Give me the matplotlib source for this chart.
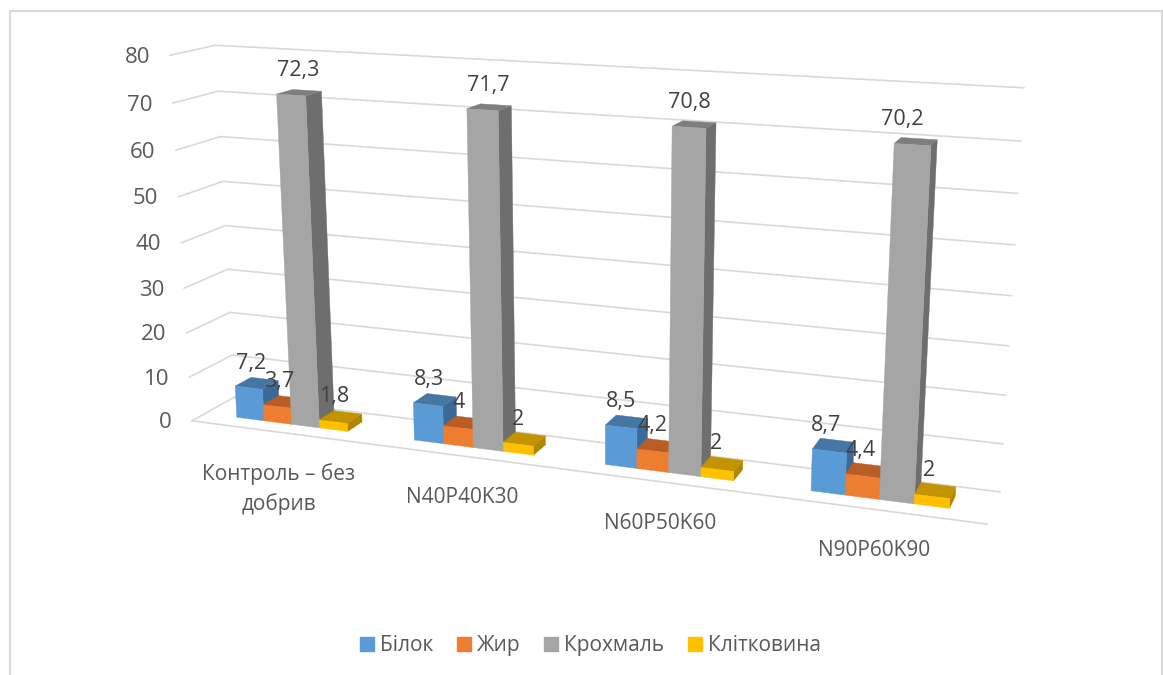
import numpy as np
import matplotlib
matplotlib.use('Agg')
import matplotlib.pyplot as plt
from matplotlib.patches import Patch, Polygon

# composition of grain by fertiliser treatment, %
categories = ['Контроль – без\nдобрив', 'N40P40K30', 'N60P50K60', 'N90P60K90']
series_names = ['Білок', 'Жир', 'Крохмаль', 'Клітковина']
bilok = [7.2, 8.3, 8.5, 8.7]
zhyr = [3.7, 4, 4.2, 4.4]
krokhmal = [72.3, 71.7, 70.8, 70.2]
klitkovyna = [1.8, 2, 2, 2]
yticks = [0, 10, 20, 30, 40, 50, 60, 70, 80]

front_colors = ['#5B9BD5', '#ED7D31', '#A5A5A5', '#FFC000']
top_colors = ['#4577A5', '#BA5D24', '#7E7E7E', '#C49400']
side_colors = ['#3C6A96', '#A85420', '#6E6E6E', '#B08600']
grid_color = '#D9D9D9'

plt.rcParams['font.family'] = ['Open Sans', 'DejaVu Sans']

# camera: (category, depth, value) -> canvas position, solved from the box corners
world = np.array([
    (0, 0, 0), (0, 0, 10), (0, 0, 70), (0, 0, 80),
    (0, 1, 0), (0, 1, 10), (0, 1, 60), (0, 1, 70), (0, 1, 80),
    (4, 1, 0), (4, 1, 10), (4, 1, 60), (4, 1, 70), (4, 1, 80),
    (4, 0, 0)], dtype=float)
canvas = np.array([
    (192, 421), (189, 377), (173, 103), (170, 55.5),
    (235, 397), (232, 355), (220, 137), (218, 91), (216, 45),
    (1000, 492), (1003, 444), (1018, 193), (1021, 141), (1024, 88),
    (987, 524)], dtype=float)


def solve_camera(world, canvas):
    rows = []
    rhs = []
    for (u, d, v), (x, y) in zip(world, canvas):
        rows.append([u, d, v, 1, 0, 0, 0, 0, -x*u, -x*d, -x*v])
        rhs.append(x)
        rows.append([0, 0, 0, 0, u, d, v, 1, -y*u, -y*d, -y*v])
        rhs.append(y)
    p = np.linalg.lstsq(np.array(rows), np.array(rhs), rcond=None)[0]
    return np.append(p, 1.0).reshape(3, 4)


cam = solve_camera(world, canvas)


def project(u, d, v):
    q = cam @ np.array([u, d, v, 1.0])
    return q[0]/q[2], q[1]/q[2]


fig = plt.figure(figsize=(11.63, 6.75), dpi=100)
ax = fig.add_axes([0, 0, 1, 1])
ax.set_xlim(0, 1163)
ax.set_ylim(675, 0)
ax.axis('off')

# chart frame
ax.plot([10, 10, 1162, 1162], [675, 10.5, 10.5, 675], color=grid_color, lw=1.5)

# walls and floor
for val in yticks:
    pts = [project(0, 0, val), project(0, 1, val), project(4, 1, val)]
    ax.plot(*zip(*pts), color=grid_color, lw=1.2, solid_capstyle='round', zorder=1)
    x0, y0 = pts[0]
    ax.text(x0 - 20, y0 + 2, str(val), ha='right', va='center', fontsize=16, color='#595959')
ax.plot(*zip(project(0, 0, 0), project(4, 0, 0)), color=grid_color, lw=1.2, zorder=1)

for i, label in enumerate(categories):
    x, y = project(i + 0.5, 0, 0)
    ax.text(x, y + 31, label, ha='center', va='top', fontsize=15, color='#595959', linespacing=1.5)

# bars, left to right so nearer ones cover the farther ones
width = 0.158
d0, d1 = 0.31, 0.69
label_lean = [5, 5, 1, -8]
series = [bilok, zhyr, krokhmal, klitkovyna]
for i in range(len(categories)):
    for j, values in enumerate(series):
        val = values[i]
        u0 = i + 0.5 + (j - 2)*width
        u1 = u0 + width
        faces = [
            ([(u1, d0, 0), (u1, d1, 0), (u1, d1, val), (u1, d0, val)], side_colors[j]),
            ([(u0, d0, val), (u1, d0, val), (u1, d1, val), (u0, d1, val)], top_colors[j]),
            ([(u0, d0, 0), (u1, d0, 0), (u1, d0, val), (u0, d0, val)], front_colors[j]),
        ]
        for corners, color in faces:
            ax.add_patch(Polygon([project(*c) for c in corners], closed=True, facecolor=color,
                                 edgecolor=color, lw=0.3, zorder=2))
        x, y = project((u0 + u1)/2, (d0 + d1)/2, val)
        lean = val/70
        ax.text(x - 6 + lean*label_lean[i], y - 20 - 2*lean, str(val).replace('.', ','), ha='center',
                va='center', fontsize=15.5, color='#404040', zorder=5)

handles = [Patch(facecolor=c, edgecolor=c) for c in front_colors]
ax.legend(handles, series_names, loc='center', bbox_to_anchor=(590.5/1163, 1 - 645.5/675), ncol=4,
          frameon=False, fontsize=15, handlelength=0.67, handleheight=0.67, handletextpad=0.29,
          columnspacing=1.15, borderpad=0, labelcolor='#595959')

plt.savefig('out.png', dpi=100)
plt.close()
